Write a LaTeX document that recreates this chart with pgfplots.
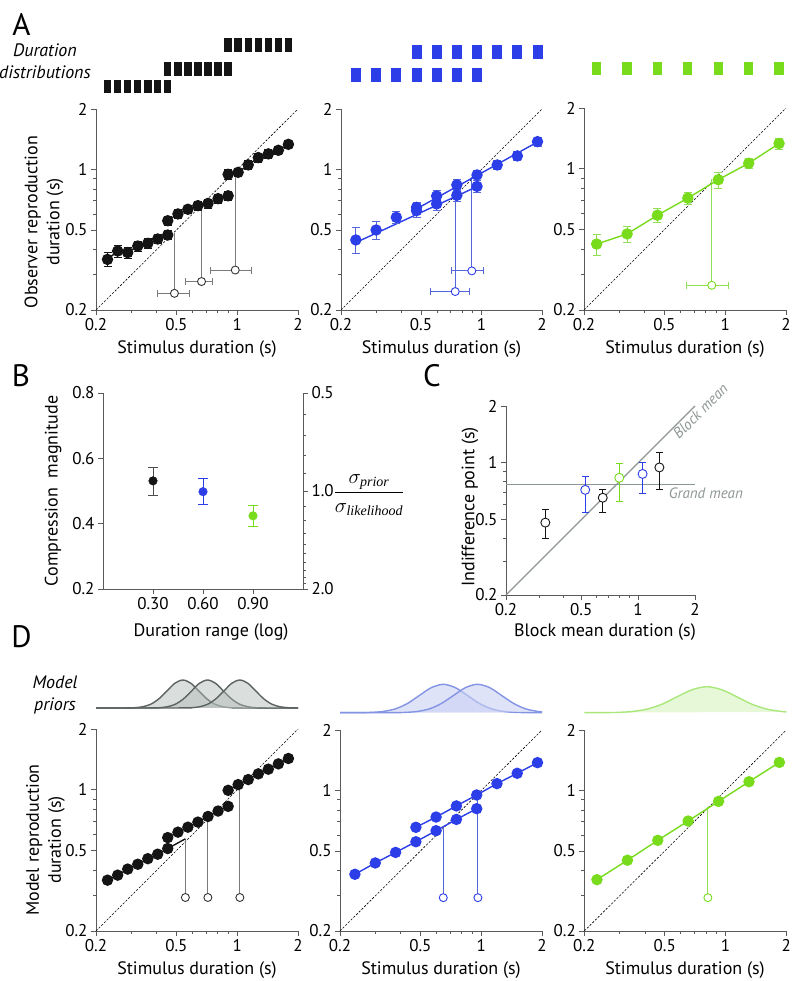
\documentclass[border=0pt]{standalone}
\usepackage{amsmath}
\usepackage{fontspec}
\setmainfont{PT Sans}
\newfontfamily\timesf{Liberation Serif}
\usepackage{pgfplots}
\pgfplotsset{compat=1.18}
\definecolor{cblk}{HTML}{141414}
\definecolor{cblue}{HTML}{2B3EE8}
\definecolor{cgreen}{HTML}{78DC1C}
\definecolor{gline}{HTML}{7A7A7A}
\definecolor{bline}{HTML}{5565DA}
\definecolor{grline}{HTML}{92DE55}
\definecolor{axc}{HTML}{5A5A5A}
\definecolor{cgray}{HTML}{8C9693}
\definecolor{pblk}{HTML}{5C6360}
\definecolor{pblkf}{HTML}{AEB8B4}
\definecolor{pblu}{HTML}{8494E4}
\definecolor{pbluf}{HTML}{C9D0F4}
\definecolor{pgrn}{HTML}{A8E87A}
\definecolor{pgrnf}{HTML}{DDF5C8}
\newcommand\tk{\fontsize{17}{20}\selectfont}
\newcommand\lb{\fontsize{18}{22}\selectfont}
\newcommand\pl{\fontsize{31}{34}\selectfont}
\pgfplotsset{
  mybase/.style={scale only axis, clip=false,
    axis x line*=bottom, axis y line*=left,
    axis line style={draw=axc, line width=0.8pt},
    tick style={draw=axc, line width=0.8pt},
    tick align=outside, major tick length=5pt, minor tick length=3pt,
    tick label style={font=\tk, text=black}},
  mylog/.style={mybase, xmin=0.2, xmax=2, ymin=0.2, ymax=2,
    xtick={0.2,0.5,1,2}, xticklabels={0.2,0.5,1,2},
    ytick={0.2,0.5,1,2}, yticklabels={0.2,0.5,1,2},
    minor xtick={0.3,0.4,0.6,0.7,0.8,0.9}, minor ytick={0.3,0.4,0.6,0.7,0.8,0.9}},
  myhid/.style={scale only axis, hide axis, clip=false},
  mydiag/.style={black, line width=0.6pt, dash pattern=on 2.2pt off 1.6pt},
  mydots/.style={mark=*, mark size=5pt, line width=1.4pt},
  myebar/.style={line width=0.8pt, mark=-, mark size=4pt, unbounded coords=jump},
  myhbar/.style={line width=0.8pt, mark=|, mark size=3.5pt, unbounded coords=jump},
  myocirc/.style={only marks, mark=*, mark size=4pt, mark options={fill=white, draw=#1, line width=0.9pt}},
  mysq/.style={only marks, mark=text, text mark={#1}},
}
\begin{document}
\begin{tikzpicture}[x=1pt,y=1pt]
\useasboundingbox (0,0) rectangle (796,981);

% ---------------- panel letters and side texts
\node[font=\pl] at (21.5,957) {A};
\node[font=\pl] at (21,605.5) {B};
\node[font=\pl] at (432,605.5) {C};
\node[font=\pl] at (21.5,344) {D};
\node[font=\lb\itshape, align=center, inner sep=0pt] at (45,920) {Duration\\distributions};
\node[font=\lb\itshape, align=center, inner sep=0pt] at (55,286) {Model\\priors};

% ---------------- duration distributions (squares)
\begin{axis}[myhid, xmode=log, xmin=0.2, xmax=2, ymin=0, ymax=100, at={(96pt,881pt)}, anchor=south west, width=202pt, height=100pt]
\addplot[mysq={\textcolor{cblk}{\rule{7.4pt}{13.4pt}}}] coordinates {
(0.228,13.3) (0.256,13.3) (0.287,13.3) (0.322,13.3) (0.361,13.3) (0.404,13.3) (0.453,13.3)
(0.453,31) (0.509,31) (0.570,31) (0.639,31) (0.717,31) (0.804,31) (0.902,31)
(0.902,55) (1.011,55) (1.134,55) (1.272,55) (1.426,55) (1.599,55) (1.793,55)};
\end{axis}
\begin{axis}[myhid, xmode=log, xmin=0.2, xmax=2, ymin=0, ymax=100, at={(341pt,881pt)}, anchor=south west, width=201pt, height=100pt]
\addplot[mysq={\textcolor{cblue}{\rule{10pt}{14pt}}}] coordinates {
(0.237,24.5) (0.299,24.5) (0.377,24.5) (0.475,24.5) (0.598,24.5) (0.754,24.5) (0.950,24.5)
(0.475,47.5) (0.598,47.5) (0.754,47.5) (0.950,47.5) (1.197,47.5) (1.508,47.5) (1.900,47.5)};
\end{axis}
\begin{axis}[myhid, xmode=log, xmin=0.2, xmax=2, ymin=0, ymax=100, at={(584pt,881pt)}, anchor=south west, width=202pt, height=100pt]
\addplot[mysq={\textcolor{cgreen}{\rule{9.3pt}{13pt}}}] coordinates {
(0.231,31.5) (0.327,31.5) (0.462,31.5) (0.653,31.5) (0.924,31.5) (1.307,31.5) (1.848,31.5)};
\end{axis}

% ---------------- A1
\begin{axis}[xmode=log, ymode=log, mylog, at={(96pt,671pt)}, anchor=south west, width=202pt, height=201pt]
\addplot[mydiag] coordinates {(0.2,0.2) (2,2)};
\addplot[gline, line width=1pt] coordinates {(0.489,0.242) (0.489,0.482)};
\addplot[gline, line width=1pt] coordinates {(0.666,0.277) (0.666,0.624)};
\addplot[gline, line width=1pt] coordinates {(0.978,0.316) (0.978,0.94)};
\addplot[cblk, myebar] coordinates {
(0.228,0.328) (0.228,0.386) (nan,nan) (0.256,0.365) (0.256,0.421) (nan,nan)
(0.287,0.363) (0.287,0.409) (nan,nan) (0.322,0.391) (0.322,0.441) (nan,nan)
(0.361,0.403) (0.361,0.455) (nan,nan) (0.404,0.428) (0.404,0.474) (nan,nan)
(0.453,0.448) (0.453,0.496) (nan,nan) (0.453,0.528) (0.453,0.584) (nan,nan)
(0.509,0.571) (0.509,0.631) (nan,nan) (0.570,0.602) (0.570,0.666) (nan,nan)
(0.639,0.628) (0.639,0.694) (nan,nan) (0.717,0.644) (0.717,0.712) (nan,nan)
(0.804,0.680) (0.804,0.752) (nan,nan) (0.902,0.703) (0.902,0.777) (nan,nan)
(0.902,0.889) (0.902,1.003) (nan,nan) (1.011,0.920) (1.011,1.016) (nan,nan)
(1.134,1.001) (1.134,1.107) (nan,nan) (1.272,1.089) (1.272,1.203) (nan,nan)
(1.426,1.136) (1.426,1.256) (nan,nan) (1.599,1.184) (1.599,1.308) (nan,nan)
(1.793,1.267) (1.793,1.401)};
\addplot[cblk, mydots] coordinates {(0.228,0.357) (0.256,0.393) (0.287,0.386) (0.322,0.416) (0.361,0.429) (0.404,0.451) (0.453,0.472)};
\addplot[cblk, mydots] coordinates {(0.453,0.556) (0.509,0.601) (0.570,0.634) (0.639,0.661) (0.717,0.678) (0.804,0.716) (0.902,0.740)};
\addplot[cblk, mydots] coordinates {(0.902,0.946) (1.011,0.968) (1.134,1.054) (1.272,1.146) (1.426,1.196) (1.599,1.246) (1.793,1.334)};
\addplot[gline, myhbar] coordinates {
(0.404,0.242) (0.578,0.242) (nan,nan) (0.557,0.277) (0.754,0.277) (nan,nan) (0.740,0.316) (1.170,0.316)};
\addplot[myocirc=black!80] coordinates {(0.489,0.242) (0.666,0.277) (0.978,0.316)};
\end{axis}

% ---------------- A2
\begin{axis}[xmode=log, ymode=log, mylog, at={(341pt,671pt)}, anchor=south west, width=201pt, height=201pt]
\addplot[mydiag] coordinates {(0.2,0.2) (2,2)};
\addplot[bline, line width=1pt] coordinates {(0.740,0.247) (0.740,0.776)};
\addplot[bline, line width=1pt] coordinates {(0.895,0.313) (0.895,0.914)};
\addplot[cblue, line width=1.4pt] coordinates {(0.237,0.433) (0.950,0.822)};
\addplot[cblue, line width=1.4pt] coordinates {(0.475,0.637) (1.900,1.370)};
\addplot[bline, myebar] coordinates {
(0.237,0.383) (0.237,0.515) (nan,nan) (0.299,0.450) (0.299,0.550) (nan,nan)
(0.377,0.538) (0.377,0.618) (nan,nan) (0.475,0.580) (0.475,0.687) (nan,nan)
(0.598,0.627) (0.598,0.721) (nan,nan) (0.754,0.692) (0.754,0.796) (nan,nan)
(0.950,0.766) (0.950,0.882) (nan,nan) (0.598,0.686) (0.598,0.790) (nan,nan)
(0.754,0.788) (0.754,0.888) (nan,nan) (0.950,0.883) (0.950,0.995) (nan,nan)
(1.197,1.000) (1.197,1.106) (nan,nan) (1.508,1.110) (1.508,1.226) (nan,nan)
(1.900,1.307) (1.900,1.445)};
\addplot[cblue, only marks, mydots] coordinates {(0.237,0.446) (0.299,0.500) (0.377,0.578) (0.475,0.624) (0.598,0.674) (0.754,0.744) (0.950,0.824)};
\addplot[cblue, only marks, mydots] coordinates {(0.475,0.648) (0.598,0.738) (0.754,0.838) (0.950,0.939) (1.197,1.053) (1.508,1.168) (1.900,1.376)};
\addplot[bline, myhbar] coordinates {(0.558,0.247) (0.866,0.247) (nan,nan) (0.708,0.313) (1.026,0.313)};
\addplot[myocirc=cblue] coordinates {(0.740,0.247) (0.895,0.313)};
\end{axis}

% ---------------- A3
\begin{axis}[xmode=log, ymode=log, mylog, at={(584pt,671pt)}, anchor=south west, width=202pt, height=202pt]
\addplot[mydiag] coordinates {(0.2,0.2) (2,2)};
\addplot[grline, line width=1pt] coordinates {(0.858,0.265) (0.858,0.887)};
\addplot[grline, myebar] coordinates {
(0.231,0.373) (0.231,0.475) (nan,nan) (0.327,0.433) (0.327,0.519) (nan,nan)
(0.462,0.542) (0.462,0.636) (nan,nan) (0.653,0.666) (0.653,0.766) (nan,nan)
(0.924,0.804) (0.924,0.962) (nan,nan) (1.307,1.001) (1.307,1.129) (nan,nan)
(1.848,1.254) (1.848,1.414)};
\addplot[cgreen, mydots] coordinates {(0.231,0.424) (0.327,0.476) (0.462,0.589) (0.653,0.716) (0.924,0.883) (1.307,1.065) (1.848,1.334)};
\addplot[grline, myhbar] coordinates {(0.640,0.265) (1.040,0.265)};
\addplot[myocirc=cgreen] coordinates {(0.858,0.265)};
\end{axis}

\node[font=\lb] at (197,632) {Stimulus duration (s)};
\node[font=\lb] at (441.5,632) {Stimulus duration (s)};
\node[font=\lb] at (685,632) {Stimulus duration (s)};
\node[font=\lb, rotate=90, align=center] at (44,759) {Observer reproduction\\duration (s)};

% ---------------- B
\begin{axis}[mybase, at={(103pt,392pt)}, anchor=south west, width=200pt, height=196pt,
  xmin=0, xmax=1.2, ymin=0.2, ymax=0.8, xtick={0.3,0.6,0.9}, xticklabels={0.30,0.60,0.90},
  ytick={0.2,0.4,0.6,0.8}, yticklabels={0.2,0.4,0.6,0.8}]
\addplot[black!70, myebar, mark size=5pt] coordinates {(0.3,0.488) (0.3,0.573)};
\addplot[cblue, myebar, mark size=5pt] coordinates {(0.6,0.458) (0.6,0.539)};
\addplot[cgreen, myebar, mark size=5pt] coordinates {(0.9,0.393) (0.9,0.456)};
\addplot[cblk, only marks, mark=*, mark size=4.3pt] coordinates {(0.3,0.531)};
\addplot[cblue, only marks, mark=*, mark size=4.3pt] coordinates {(0.6,0.498)};
\addplot[cgreen, only marks, mark=*, mark size=4.3pt] coordinates {(0.9,0.424)};
\end{axis}
\begin{axis}[mybase, at={(103pt,392pt)}, anchor=south west, width=200pt, height=196pt,
  xmin=0, xmax=1.2, ymin=0.2, ymax=0.8, axis x line=none, axis y line*=right,
  ytick={0.2,0.5,0.8}, yticklabels={2.0,1.0,0.5},
  minor ytick={0.7353,0.6711,0.6098,0.5525,0.4525,0.4098,0.3717,0.3378,0.3077,0.2809,0.2571,0.2358,0.2169}]
\addplot[draw=none] coordinates {(0.5,0.5)};
\end{axis}
\node[font=\lb] at (211,349) {Duration range (log)};
\node[font=\lb, rotate=90] at (53,490) {Compression\ \ magnitude};
\node[font=\fontsize{20}{22}\selectfont, inner sep=0pt] at (369,486) {$\displaystyle\frac{\sigma_{\text{\timesf\itshape prior}}}{\sigma_{\text{\timesf\itshape likelihood}}}$};

% ---------------- C
\begin{axis}[xmode=log, ymode=log, mylog, at={(506pt,386pt)}, anchor=south west, width=189pt, height=189pt]
\addplot[cgray, line width=1.2pt] coordinates {(0.2,0.2) (2,2)};
\addplot[cgray, line width=1.2pt] coordinates {(0.2,0.771) (2,0.771)};
\node[rotate=45, anchor=north west, font=\fontsize{15}{17}\selectfont\itshape, text=cgray, inner sep=2pt] at (axis cs:1.45,1.45) {Block mean};
\node[anchor=north west, font=\fontsize{15}{17}\selectfont\itshape, text=cgray, inner sep=3pt] at (axis cs:1.40,0.771) {Grand mean};
\addplot[cblk, myebar, mark size=3.5pt] coordinates {
(0.323,0.399) (0.323,0.564) (nan,nan) (0.650,0.548) (0.650,0.728) (nan,nan) (1.296,0.724) (1.296,1.130)};
\addplot[cblue, myebar, mark size=3.5pt] coordinates {
(0.525,0.548) (0.525,0.844) (nan,nan) (1.056,0.690) (1.056,1.002)};
\addplot[cgreen, myebar, mark size=3.5pt] coordinates {(0.795,0.623) (0.795,0.996)};
\addplot[myocirc=cblk, mark size=4.5pt] coordinates {(0.323,0.483) (0.650,0.654) (1.296,0.946)};
\addplot[myocirc=cblue, mark size=4.5pt] coordinates {(0.525,0.720) (1.056,0.874)};
\addplot[myocirc=cgreen, mark size=4.5pt] coordinates {(0.795,0.834)};
\end{axis}
\node[font=\lb] at (605,349) {Block mean duration (s)};
\node[font=\lb, rotate=90] at (470,474) {Indifference point (s)};

% ---------------- model priors (x in log10 seconds)
\begin{axis}[myhid, xmin=-0.699, xmax=0.301, ymin=0, ymax=1, at={(96pt,273pt)}, anchor=south west, width=202pt, height=28pt]
\addplot[draw=pblk, line width=1.4pt, fill=pblkf, fill opacity=0.45, smooth, tension=0.5] coordinates {
(-0.699,0) (-0.547,0.002) (-0.507,0.011) (-0.468,0.044) (-0.428,0.135) (-0.388,0.325) (-0.348,0.607) (-0.309,0.882) (-0.269,1)
(-0.229,0.882) (-0.190,0.607) (-0.150,0.325) (-0.110,0.135) (-0.071,0.044) (-0.031,0.011) (0.009,0.002) (0.301,0)};
\addplot[draw=pblk, line width=1.4pt, fill=pblkf, fill opacity=0.45, smooth, tension=0.5] coordinates {
(-0.699,0) (-0.425,0.002) (-0.385,0.011) (-0.346,0.044) (-0.306,0.135) (-0.266,0.325) (-0.226,0.607) (-0.187,0.882) (-0.147,1)
(-0.107,0.882) (-0.068,0.607) (-0.028,0.325) (0.012,0.135) (0.052,0.044) (0.091,0.011) (0.131,0.002) (0.301,0)};
\addplot[draw=pblk, line width=1.4pt, fill=pblkf, fill opacity=0.45, smooth, tension=0.5] coordinates {
(-0.699,0) (-0.265,0.002) (-0.225,0.011) (-0.186,0.044) (-0.146,0.135) (-0.106,0.325) (-0.066,0.607) (-0.027,0.882) (0.013,1)
(0.053,0.882) (0.092,0.607) (0.132,0.325) (0.172,0.135) (0.212,0.044) (0.251,0.011) (0.291,0.002) (0.301,0)};
\end{axis}
\begin{axis}[myhid, xmin=-0.699, xmax=0.301, ymin=0, ymax=1, at={(340pt,268.3pt)}, anchor=south west, width=202pt, height=28.4pt]
\addplot[draw=pblu, line width=1.4pt, fill=pbluf, fill opacity=0.6, smooth, tension=0.5] coordinates {
(-0.699,0) (-0.604,0.002) (-0.544,0.011) (-0.485,0.044) (-0.425,0.135) (-0.365,0.325) (-0.306,0.607) (-0.247,0.882) (-0.187,1)
(-0.128,0.882) (-0.068,0.607) (-0.009,0.325) (0.051,0.135) (0.110,0.044) (0.170,0.011) (0.230,0.002) (0.301,0)};
\addplot[draw=pblu, line width=1.4pt, fill=pbluf, fill opacity=0.6, smooth, tension=0.5] coordinates {
(-0.699,0) (-0.435,0.002) (-0.375,0.011) (-0.316,0.044) (-0.256,0.135) (-0.197,0.325) (-0.137,0.607) (-0.078,0.882) (-0.018,1)
(0.042,0.882) (0.101,0.607) (0.161,0.325) (0.220,0.135) (0.280,0.044) (0.301,0.03)};
\end{axis}
\begin{axis}[myhid, xmin=-0.699, xmax=0.301, ymin=0, ymax=1, at={(584.3pt,268.3pt)}, anchor=south west, width=202pt, height=26pt]
\addplot[draw=pgrn, line width=1.4pt, fill=pgrnf, fill opacity=0.7, smooth, tension=0.5] coordinates {
(-0.699,0) (-0.613,0.002) (-0.538,0.011) (-0.464,0.044) (-0.390,0.135) (-0.315,0.325) (-0.241,0.607) (-0.166,0.882) (-0.092,1)
(-0.018,0.882) (0.057,0.607) (0.131,0.325) (0.206,0.135) (0.280,0.044) (0.301,0.03)};
\end{axis}

% ---------------- D1
\begin{axis}[xmode=log, ymode=log, mylog, at={(96pt,50pt)}, anchor=south west, width=202pt, height=202pt]
\addplot[mydiag] coordinates {(0.2,0.2) (2,2)};
\addplot[gline, line width=1pt] coordinates {(0.554,0.293) (0.554,0.572)};
\addplot[gline, line width=1pt] coordinates {(0.716,0.293) (0.716,0.746)};
\addplot[gline, line width=1pt] coordinates {(1.031,0.293) (1.031,1.061)};
\addplot[cblk, line width=1.4pt] coordinates {(0.453,0.512) (0.554,0.572)};
\addplot[cblk, mydots] coordinates {(0.228,0.357) (0.256,0.378) (0.287,0.405) (0.322,0.428) (0.361,0.456) (0.404,0.480) (0.453,0.512)};
\addplot[cblk, mydots] coordinates {(0.453,0.580) (0.509,0.617) (0.570,0.653) (0.639,0.692) (0.717,0.738) (0.804,0.785) (0.902,0.828)};
\addplot[cblk, mydots] coordinates {(0.902,0.994) (1.011,1.061) (1.134,1.124) (1.272,1.199) (1.426,1.265) (1.599,1.344) (1.793,1.429)};
\addplot[myocirc=black!80] coordinates {(0.554,0.293) (0.716,0.293) (1.031,0.293)};
\end{axis}

% ---------------- D2
\begin{axis}[xmode=log, ymode=log, mylog, at={(340pt,50pt)}, anchor=south west, width=202pt, height=201pt]
\addplot[mydiag] coordinates {(0.2,0.2) (2,2)};
\addplot[bline, line width=1pt] coordinates {(0.649,0.293) (0.649,0.650)};
\addplot[bline, line width=1pt] coordinates {(0.963,0.293) (0.963,0.950)};
\addplot[cblue, mydots] coordinates {(0.237,0.383) (0.299,0.436) (0.377,0.492) (0.475,0.556) (0.598,0.631) (0.754,0.718) (0.950,0.812)};
\addplot[cblue, mydots] coordinates {(0.475,0.656) (0.598,0.738) (0.754,0.838) (0.950,0.950) (1.197,1.082) (1.508,1.218) (1.900,1.376)};
\addplot[myocirc=cblue] coordinates {(0.649,0.293) (0.963,0.293)};
\end{axis}

% ---------------- D3
\begin{axis}[xmode=log, ymode=log, mylog, at={(584.3pt,50pt)}, anchor=south west, width=202pt, height=201pt]
\addplot[mydiag] coordinates {(0.2,0.2) (2,2)};
\addplot[grline, line width=1pt] coordinates {(0.818,0.293) (0.818,0.828)};
\addplot[cgreen, mydots] coordinates {(0.231,0.360) (0.327,0.450) (0.462,0.565) (0.653,0.705) (0.924,0.883) (1.307,1.106) (1.848,1.380)};
\addplot[myocirc=cgreen] coordinates {(0.818,0.293)};
\end{axis}

\node[font=\lb] at (197,11) {Stimulus duration (s)};
\node[font=\lb] at (441,11) {Stimulus duration (s)};
\node[font=\lb] at (685,11) {Stimulus duration (s)};
\node[font=\lb, rotate=90, align=center] at (45.5,141) {Model reproduction\\duration (s)};
\end{tikzpicture}
\end{document}
